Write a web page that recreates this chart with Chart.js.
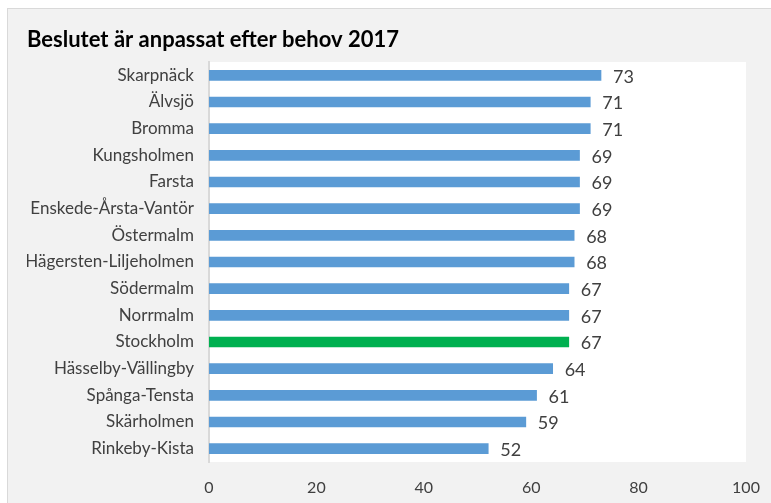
<!DOCTYPE html>
<html>
<head>
<meta charset="utf-8">
<script src="https://cdn.jsdelivr.net/npm/chart.js@4/dist/chart.umd.min.js"></script>
<style>
  html, body { margin: 0; padding: 0; background: #fff; }
  #wrap { width: 771px; height: 503px; }
</style>
</head>
<body>
<div id="wrap"><canvas id="chart" width="771" height="503"></canvas></div>
<script>
"use strict";

var categories = ["Skarpnäck", "Älvsjö", "Bromma", "Kungsholmen", "Farsta", "Enskede-Årsta-Vantör",
    "Östermalm", "Hägersten-Liljeholmen", "Södermalm", "Norrmalm", "Stockholm",
    "Hässelby-Vällingby", "Spånga-Tensta", "Skärholmen", "Rinkeby-Kista"];
var values = [73, 71, 71, 69, 69, 69, 68, 68, 67, 67, 67, 64, 61, 59, 52];
var highlight = "Stockholm";
var tickValues = [0, 20, 40, 60, 80, 100];

var barColors = categories.map(function(c) {
    return c == highlight ? "#00b050" : "#5b9bd5";
});

// background: white page, gray chart box, white plot area
var backgroundPlugin = {
    id: "bg",
    beforeDraw: function(chart) {
        var ctx = chart.ctx;
        var a = chart.chartArea;
        ctx.save();
        ctx.fillStyle = "#ffffff";
        ctx.fillRect(0, 0, chart.width, chart.height);
        ctx.fillStyle = "#f2f2f2";
        ctx.fillRect(7, 8, chart.width - 7, chart.height - 8);
        ctx.strokeStyle = "#d9d9d9";
        ctx.lineWidth = 1;
        ctx.strokeRect(7.5, 8.5, chart.width, chart.height);
        ctx.fillStyle = "#ffffff";
        ctx.fillRect(a.left, a.top, a.right - a.left, a.bottom - a.top);
        ctx.restore();
    }
};

var valueLabels = {
    id: "valueLabels",
    afterDatasetsDraw: function(chart) {
        var ctx = chart.ctx;
        var meta = chart.getDatasetMeta(0);
        ctx.save();
        ctx.font = "18px Lato";
        ctx.fillStyle = "#404040";
        ctx.textAlign = "left";
        ctx.textBaseline = "middle";
        meta.data.forEach(function(bar, i) {
            ctx.fillText(values[i], bar.x + 12, bar.y + 1.5);
        });
        ctx.restore();
    }
};

new Chart(document.getElementById("chart"), {
    type: "bar",
    data: {
        labels: categories,
        datasets: [{
            data: values,
            backgroundColor: barColors,
            barThickness: 10
        }]
    },
    options: {
        indexAxis: "y",
        responsive: false,
        animation: false,
        layout: {
            padding: { top: 27, left: 27, right: 25, bottom: 0 }
        },
        scales: {
            x: {
                min: 0,
                max: 100,
                afterBuildTicks: function(scale) {
                    scale.ticks = tickValues.map(function(v) { return { value: v }; });
                },
                afterFit: function(scale) {
                    scale.height = 41;
                    scale.paddingLeft = 0;
                    scale.paddingRight = 0;
                },
                grid: { display: false, drawTicks: false },
                border: { display: false },
                ticks: { color: "#404040", font: { family: "Lato", size: 16 }, padding: 16 }
            },
            y: {
                afterFit: function(scale) { scale.width = 182; },
                grid: { display: false, drawTicks: false },
                border: { display: true, color: "#d9d9d9", width: 2 },
                ticks: { color: "#404040", font: { family: "Lato", size: 17 }, padding: 15 }
            }
        },
        plugins: {
            legend: { display: false },
            tooltip: { enabled: false },
            title: {
                display: true,
                text: "Beslutet är anpassat efter behov 2017",
                align: "start",
                color: "#000000",
                font: { family: "Lato", size: 22, weight: "bold", lineHeight: 1.2 },
                padding: { top: 0, bottom: 8.6 }
            }
        }
    },
    plugins: [backgroundPlugin, valueLabels]
});
</script>
</body>
</html>
